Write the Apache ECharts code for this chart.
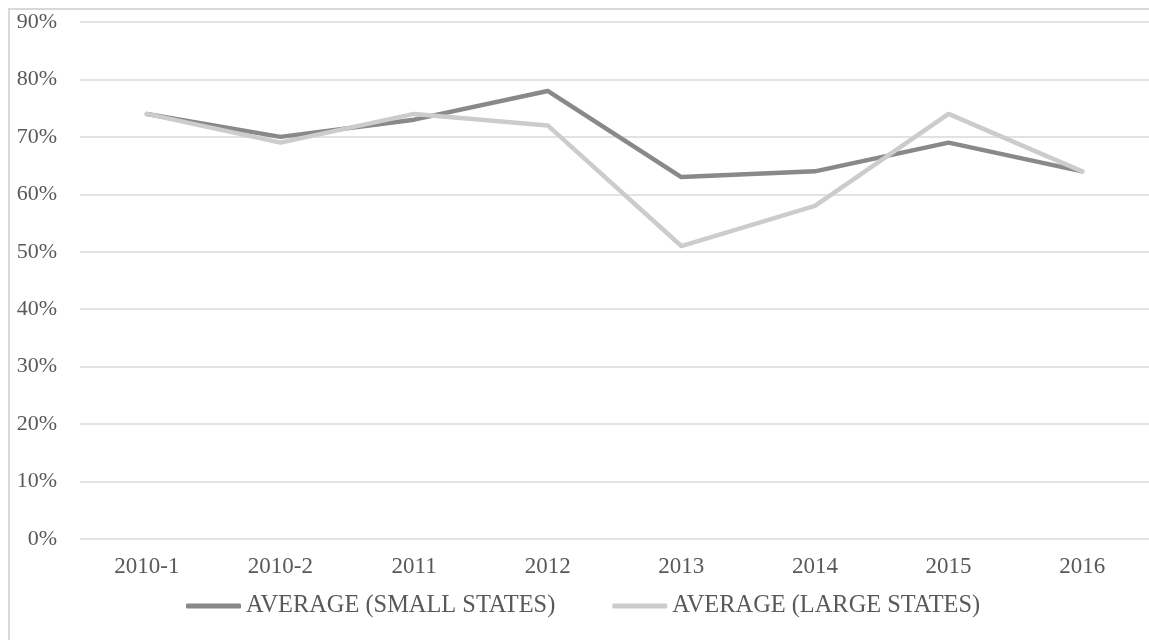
<!DOCTYPE html>
<html>
<head>
<meta charset="utf-8">
<script src="https://cdn.jsdelivr.net/npm/echarts@6/dist/echarts.min.js"></script>
<style>
html,body{margin:0;padding:0;background:#fff;}
#chart{width:1149px;height:640px;}
</style>
</head>
<body>
<div id="chart"></div>
<script>
const categories = ['2010-1', '2010-2', '2011', '2012', '2013', '2014', '2015', '2016'];
const smallStates = [74, 70, 73, 78, 63, 64, 69, 64];
const largeStates = [74, 69, 74, 72, 51, 58, 74, 64];
const seriesNames = ['AVERAGE (SMALL STATES)', 'AVERAGE (LARGE STATES)'];
const yTicks = { min: 0, max: 90, interval: 10 };

const FONT = 'Liberation Serif';
const TXT = '#595959';
const chart = echarts.init(document.getElementById('chart'), null, { renderer: 'canvas' });
chart.setOption({
  backgroundColor: '#ffffff',
  animation: false,
  textStyle: { fontFamily: FONT },
  graphic: [{
    type: 'rect',
    shape: { x: 9, y: 9, width: 1200, height: 700 },
    style: { fill: 'none', stroke: '#d9d9d9', lineWidth: 2 },
    silent: true, z: -1
  }],
  grid: { left: 80, right: -5, top: 22, bottom: 101, containLabel: false },
  legend: {
    left: 186, top: 593, padding: 0,
    itemGap: 57, itemWidth: 55, itemHeight: 5,
    icon: 'roundRect',
    textStyle: { fontFamily: FONT, fontSize: 24.4, color: TXT, lineHeight: 26 },
    data: seriesNames
  },
  xAxis: {
    type: 'category', data: categories, boundaryGap: true,
    axisLine: { show: false }, axisTick: { show: false },
    axisLabel: { fontFamily: FONT, fontSize: 23, color: TXT, margin: 16 },
    splitLine: { show: false }
  },
  yAxis: {
    type: 'value', min: yTicks.min, max: yTicks.max, interval: yTicks.interval,
    axisLine: { show: false }, axisTick: { show: false },
    axisLabel: { fontFamily: FONT, fontSize: 22, color: TXT, margin: 23, formatter: '{value}%' },
    splitLine: { lineStyle: { color: '#d9d9d9', width: 1.5 } }
  },
  series: [
    {
      name: seriesNames[0], type: 'line', data: smallStates, showSymbol: false, symbol: 'none',
      itemStyle: { color: '#898989' },
      lineStyle: { color: '#898989', width: 4.5, cap: 'round', join: 'round' }
    },
    {
      name: seriesNames[1], type: 'line', data: largeStates, showSymbol: false, symbol: 'none',
      itemStyle: { color: '#cccccc' },
      lineStyle: { color: '#cccccc', width: 4.5, cap: 'round', join: 'round' }
    }
  ]
});
</script>
</body>
</html>
